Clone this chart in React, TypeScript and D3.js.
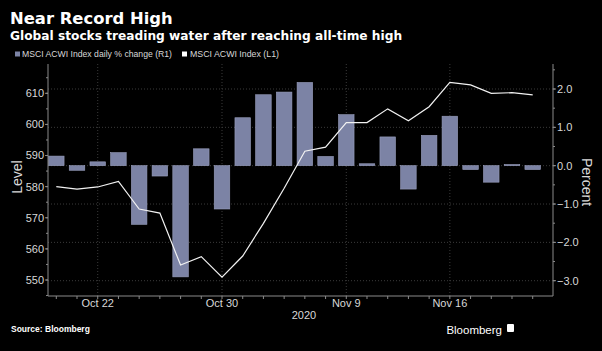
import React from 'react';
import * as d3 from 'd3';

// trading days, Oct 20 - Nov 20 2020
const dates = [
  '2020-10-20', '2020-10-21', '2020-10-22', '2020-10-23',
  '2020-10-26', '2020-10-27', '2020-10-28', '2020-10-29', '2020-10-30',
  '2020-11-02', '2020-11-03', '2020-11-04', '2020-11-05', '2020-11-06',
  '2020-11-09', '2020-11-10', '2020-11-11', '2020-11-12', '2020-11-13',
  '2020-11-16', '2020-11-17', '2020-11-18', '2020-11-19', '2020-11-20',
];

// daily % change (right axis)
const pctChange = [
  0.25, -0.12, 0.1, 0.34,
  -1.53, -0.27, -2.9, 0.44, -1.13,
  1.25, 1.85, 1.92, 2.17, 0.24,
  1.33, 0.05, 0.75, -0.61, 0.79,
  1.29, -0.1, -0.43, 0.03, -0.1,
];

// index level (left axis)
const level = [
  580.0, 579.2, 579.9, 581.7,
  572.8, 571.5, 554.8, 557.5, 550.9,
  557.7, 568.2, 579.5, 591.4, 592.7,
  600.6, 600.6, 605.0, 601.2, 605.7,
  613.5, 612.7, 610.0, 610.2, 609.5,
];

const majorDates = ['2020-10-22', '2020-10-30', '2020-11-09', '2020-11-16'];
const leftTicks = [550, 560, 570, 580, 590, 600, 610];
const rightTicks = [-3, -2, -1, 0, 1, 2];

const W = 602;
const H = 351;
const left = 48;
const right = 553;
const top = 64;
const bottom = 296;

const axisColor = '#8a8a8a';
const textColor = '#d8d8d8';
const barColor = '#7c83a5';
const font = "'Liberation Sans', Arial, sans-serif";
const wide = "'DejaVu Sans', sans-serif";

const fmtDay = d3.timeFormat('%b %-d');
const parse = d3.timeParse('%Y-%m-%d');

export default function App() {
  const x = d3.scalePoint<string>().domain(dates).range([56.3, 532.7]);
  const barW = x.step() * 0.75;
  const yL = d3.scaleLinear().domain([550, 610]).range([280, 93.3]);
  const yR = d3.scaleLinear().domain([-3, 2]).range([280.7, 89]);

  const line = d3.line<number>()
    .x((_, i) => x(dates[i]) as number)
    .y(d => yL(d));

  const leftMinor = d3.range(545, 620, 5).filter(v => yL(v) >= top && yL(v) <= bottom);
  const rightMinor = d3.range(-3.5, 3, 0.5).filter(v => yR(v) >= top && yR(v) <= bottom);

  return (
    <svg width={W} height={H} style={{ position: 'absolute', left: 0, top: 0, background: '#000' }}>
      <rect width={W} height={H} fill="#000" />

      {/* titles */}
      <text x={10} y={24} fill="#fff" fontFamily={wide} fontWeight="bold" fontSize={16.4}>Near Record High</text>
      <text x={10} y={39.5} fill="#fff" fontFamily={wide} fontWeight="bold" fontSize={12.2}>
        Global stocks treading water after reaching all-time high
      </text>

      {/* legend */}
      <rect x={15} y={51.5} width={5} height={5} fill={barColor} />
      <text x={22} y={57} fill={textColor} fontFamily={font} fontSize={8.8}
        textLength={150} lengthAdjust="spacingAndGlyphs">MSCI ACWI Index daily % change (R1)</text>
      <rect x={182} y={51.5} width={5} height={5} fill="#fff" />
      <text x={190} y={57} fill={textColor} fontFamily={font} fontSize={8.8}
        textLength={89} lengthAdjust="spacingAndGlyphs">MSCI ACWI Index  (L1)</text>

      {/* grid */}
      {rightTicks.map(t => (
        <line key={'gh' + t} x1={left} x2={right} y1={yR(t)} y2={yR(t)}
          stroke="#3a3a3a" strokeDasharray="1,2" />
      ))}
      {majorDates.map(d => (
        <line key={'gv' + d} x1={x(d)} x2={x(d)} y1={top} y2={bottom}
          stroke="#3a3a3a" strokeDasharray="1,2" />
      ))}

      {/* bars */}
      {pctChange.map((v, i) => (
        <rect key={'b' + i}
          x={(x(dates[i]) as number) - barW / 2}
          y={Math.min(yR(v), yR(0))}
          width={barW}
          height={Math.abs(yR(v) - yR(0))}
          fill={barColor}
          stroke="#9aa0bf"
          strokeWidth={0.6} />
      ))}

      {/* level line */}
      <path d={line(level) as string} fill="none" stroke="#f2f2f2" strokeWidth={1.2} />

      {/* axes */}
      <line x1={left} x2={left} y1={top} y2={bottom} stroke={axisColor} />
      <line x1={right} x2={right} y1={top} y2={bottom} stroke={axisColor} />
      <line x1={left} x2={right} y1={bottom} y2={bottom} stroke={axisColor} />

      {leftMinor.map(v => (
        <line key={'lm' + v} x1={left - 2} x2={left} y1={yL(v)} y2={yL(v)} stroke={axisColor} />
      ))}
      {leftTicks.map(v => (
        <g key={'lt' + v}>
          <line x1={left - 3} x2={left} y1={yL(v)} y2={yL(v)} stroke={axisColor} />
          <text x={left - 4} y={yL(v)} dy="0.35em" textAnchor="end" fill={textColor}
            fontFamily={font} fontSize={11}>{v}</text>
        </g>
      ))}

      {rightMinor.map(v => (
        <line key={'rm' + v} x1={right} x2={right + 2} y1={yR(v)} y2={yR(v)} stroke={axisColor} />
      ))}
      {rightTicks.map(v => (
        <g key={'rt' + v}>
          <line x1={right} x2={right + 3} y1={yR(v)} y2={yR(v)} stroke={axisColor} />
          <text x={right + 4} y={yR(v)} dy="0.35em" fill={textColor}
            fontFamily={font} fontSize={11}>{d3.format('.1f')(v)}</text>
        </g>
      ))}

      {dates.map(d => (
        <line key={'xt' + d} x1={x(d)} x2={x(d)} y1={bottom} y2={bottom + 3} stroke={axisColor} />
      ))}
      {majorDates.map(d => (
        <text key={'xl' + d} x={x(d)} y={307} textAnchor="middle" fill={textColor}
          fontFamily={font} fontSize={11}>{fmtDay(parse(d) as Date)}</text>
      ))}
      <text x={304} y={318.5} textAnchor="middle" fill={textColor} fontFamily={font} fontSize={11}>2020</text>

      {/* axis titles */}
      <text transform="translate(22,177) rotate(-90)" textAnchor="middle" fill={textColor}
        fontFamily={font} fontSize={14}>Level</text>
      <text transform="translate(582,182) rotate(90)" textAnchor="middle" fill={textColor}
        fontFamily={font} fontSize={14}>Percent</text>

      {/* footer */}
      <text x={11} y={332} fill="#fff" fontFamily={font} fontWeight="bold" fontSize={8.5}>Source: Bloomberg</text>
      <text x={502} y={334} textAnchor="end" fill="#fff" fontFamily={font} fontSize={11.5}>Bloomberg</text>
      <rect x={507} y={324} width={7} height={8} fill="#fff" rx={1} />
    </svg>
  );
}
